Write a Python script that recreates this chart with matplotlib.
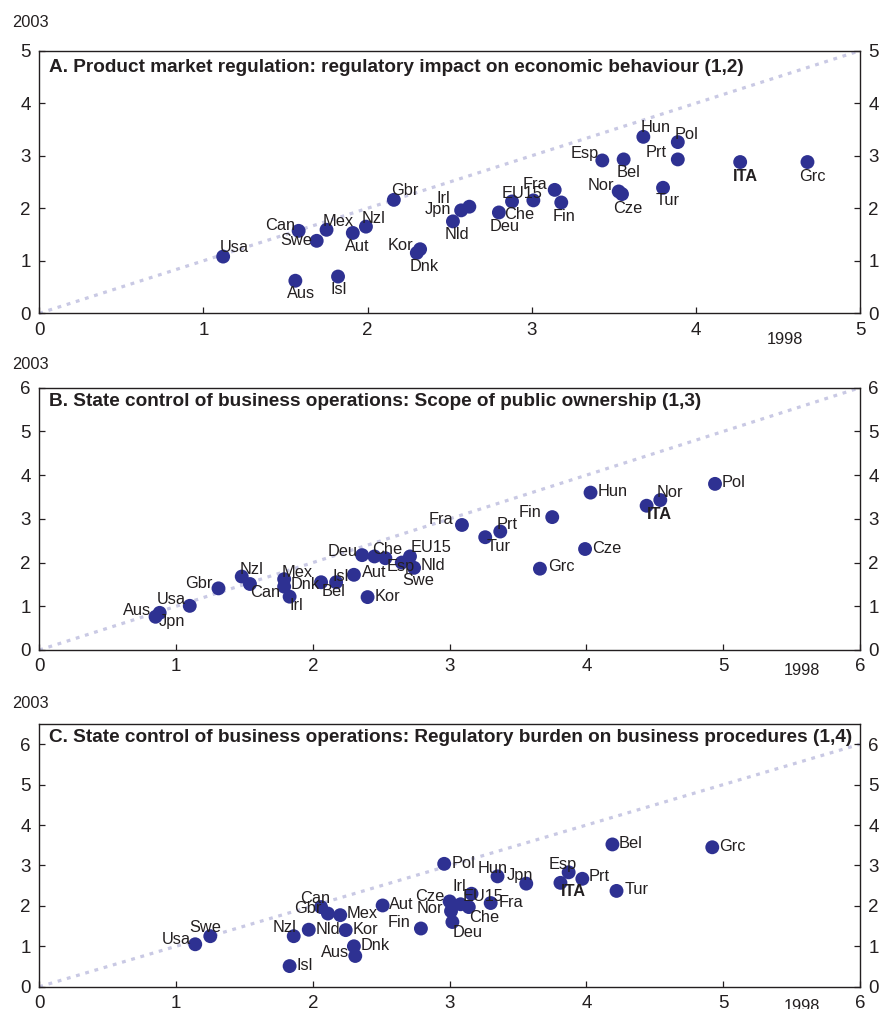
import matplotlib
matplotlib.use("Agg")
import matplotlib.pyplot as plt

plt.rcParams['font.family'] = ['Liberation Sans', 'DejaVu Sans']

TEXT = '#231f20'
DOT = '#2e3192'
DIAG = '#c9c9e4'

# Panel A: regulatory impact on economic behaviour
a_countries = ['Usa', 'Aus', 'Isl', 'Can', 'Swe', 'Mex', 'Aut', 'Nzl', 'Gbr', 'Kor',
               'Dnk', 'Nld', 'Jpn', 'Irl', 'Deu', 'Che', 'EU15', 'Fra', 'Fin', 'Esp',
               'Bel', 'Nor', 'Cze', 'Hun', 'Pol', 'Prt', 'Tur', 'ITA', 'Grc']
a_1998 = [1.12, 1.56, 1.82, 1.58, 1.69, 1.75, 1.91, 1.99, 2.16, 2.32,
          2.30, 2.52, 2.57, 2.62, 2.80, 2.88, 3.01, 3.14, 3.18, 3.43,
          3.56, 3.53, 3.55, 3.68, 3.89, 3.89, 3.80, 4.27, 4.68]
a_2003 = [1.08, 0.62, 0.70, 1.57, 1.38, 1.59, 1.53, 1.65, 2.16, 1.22,
          1.15, 1.75, 1.96, 2.03, 1.92, 2.13, 2.15, 2.35, 2.11, 2.91,
          2.93, 2.32, 2.27, 3.36, 3.26, 2.93, 2.39, 2.88, 2.88]

# Panel B: scope of public ownership
b_countries = ['Aus', 'Jpn', 'Usa', 'Gbr', 'Nzl', 'Can', 'Mex', 'Dnk', 'Irl', 'Bel',
               'Isl', 'Aut', 'Kor', 'Deu', 'Che', 'Esp', 'Swe', 'EU15', 'Nld', 'Fra',
               'Tur', 'Prt', 'Fin', 'Grc', 'Cze', 'Hun', 'ITA', 'Nor', 'Pol']
b_1998 = [0.88, 0.85, 1.10, 1.31, 1.48, 1.54, 1.79, 1.79, 1.83, 2.06,
          2.17, 2.30, 2.40, 2.36, 2.45, 2.53, 2.65, 2.71, 2.74, 3.09,
          3.26, 3.37, 3.75, 3.66, 3.99, 4.03, 4.44, 4.54, 4.94]
b_2003 = [0.85, 0.76, 1.01, 1.41, 1.68, 1.51, 1.62, 1.45, 1.22, 1.55,
          1.55, 1.72, 1.21, 2.17, 2.14, 2.10, 2.00, 2.14, 1.88, 2.86,
          2.58, 2.71, 3.04, 1.86, 2.31, 3.60, 3.30, 3.43, 3.80]

# Panel C: regulatory burden on business procedures
c_countries = ['Usa', 'Swe', 'Nzl', 'Isl', 'Nld', 'Can', 'Gbr', 'Mex', 'Kor', 'Dnk',
               'Aus', 'Aut', 'Fin', 'Pol', 'Hun', 'Jpn', 'Cze', 'Nor', 'Deu', 'Irl',
               'EU15', 'Che', 'Fra', 'Esp', 'ITA', 'Prt', 'Tur', 'Bel', 'Grc']
c_1998 = [1.14, 1.25, 1.86, 1.83, 1.97, 2.06, 2.11, 2.20, 2.24, 2.30,
          2.31, 2.51, 2.79, 2.96, 3.35, 3.56, 3.00, 3.01, 3.02, 3.16,
          3.08, 3.14, 3.30, 3.87, 3.81, 3.97, 4.22, 4.19, 4.92]
c_2003 = [1.05, 1.25, 1.25, 0.51, 1.41, 1.97, 1.81, 1.77, 1.40, 1.00,
          0.76, 2.01, 1.44, 3.04, 2.73, 2.55, 2.11, 1.87, 1.60, 2.30,
          2.04, 1.97, 2.07, 2.83, 2.57, 2.67, 2.37, 3.52, 3.45]

# label offsets from the dot centre, in pixels (x right, y up)
a_offsets = {
    'Usa': (11, 9), 'Aus': (6, -13), 'Isl': (1, -13), 'Can': (-18, 5), 'Swe': (-20, 0),
    'Mex': (12, 8), 'Aut': (4, -14), 'Nzl': (8, 8), 'Gbr': (11, 9), 'Kor': (-20, 4),
    'Dnk': (7, -14), 'Nld': (4, -13), 'Jpn': (-23, 1), 'Irl': (-26, 8), 'Deu': (6, -14),
    'Che': (7, -13), 'EU15': (-11, 7), 'Fra': (-20, 5), 'Fin': (3, -14), 'Esp': (-18, 7),
    'Bel': (5, -13), 'Nor': (-18, 6), 'Cze': (6, -14), 'Hun': (12, 9), 'Pol': (9, 8),
    'Prt': (-22, 7), 'Tur': (5, -13), 'ITA': (5, -14), 'Grc': (5, -14),
}
b_offsets = {
    'Aus': (-23, 2), 'Jpn': (16, -5), 'Usa': (-19, 6), 'Gbr': (-20, 5), 'Nzl': (10, 7),
    'Can': (15, -9), 'Mex': (13, 7), 'Dnk': (21, 2), 'Irl': (7, -9), 'Bel': (12, -9),
    'Isl': (5, 6), 'Aut': (20, 2), 'Kor': (20, 1), 'Deu': (-19, 4), 'Che': (13, 7),
    'Esp': (15, -8), 'Swe': (16, -18), 'EU15': (21, 9), 'Nld': (19, 2), 'Fra': (-21, 5),
    'Tur': (13, -9), 'Prt': (7, 7), 'Fin': (-22, 5), 'Grc': (21, 2), 'Cze': (22, 1),
    'Hun': (22, 1), 'ITA': (13, -9), 'Nor': (10, 8), 'Pol': (19, 1),
}
c_offsets = {
    'Usa': (-19, 5), 'Swe': (-5, 9), 'Nzl': (-9, 9), 'Isl': (15, 1), 'Nld': (19, 0),
    'Can': (-6, 9), 'Gbr': (-20, 5), 'Mex': (22, 2), 'Kor': (20, 1), 'Dnk': (21, 1),
    'Aus': (-20, 3), 'Aut': (19, 1), 'Fin': (-22, 6), 'Pol': (19, 0), 'Hun': (-5, 8),
    'Jpn': (-6, 8), 'Cze': (-20, 5), 'Nor': (-21, 3), 'Deu': (15, -10), 'Irl': (-12, 7),
    'EU15': (22, 8), 'Che': (15, -10), 'Fra': (20, 1), 'Esp': (-6, 8), 'ITA': (13, -9),
    'Prt': (17, 2), 'Tur': (20, 1), 'Bel': (18, 1), 'Grc': (20, 1),
}

panels = [
    ('A. Product market regulation: regulatory impact on economic behaviour (1,2)',
     a_countries, a_1998, a_2003, a_offsets, 5, 5, range(0, 6)),
    ('B. State control of business operations: Scope of public ownership (1,3)',
     b_countries, b_1998, b_2003, b_offsets, 6, 6, range(0, 7)),
    ('C. State control of business operations: Regulatory burden on business procedures (1,4)',
     c_countries, c_1998, c_2003, c_offsets, 6, 6.5, range(0, 7)),
]

W, H = 880, 1009
fig = plt.figure(figsize=(W / 100, H / 100), dpi=100)

# axes boxes in pixels: left, top, right, bottom
boxes = [(39.3, 50.7, 860, 313.3), (39.3, 387.7, 860, 650), (39.3, 724, 860, 986.7)]
# (2003 label y, 1998 label x, 1998 label y) in axes fractions
year_pos = [(1.109, 0.909, -0.098), (1.087, 0.929, -0.080), (1.079, 0.929, -0.074)]
title_y = [0.935, 0.947, 0.950]

for (title, names, x98, y03, offs, xmax, ymax, ticks), box, ypos, ty in zip(
        panels, boxes, year_pos, title_y):
    l, t, r, b = box
    ax = fig.add_axes([l / W, 1 - b / H, (r - l) / W, (b - t) / H])
    ax.set_xlim(0, xmax)
    ax.set_ylim(0, ymax)
    ax.set_xticks(list(ticks))
    ax.set_yticks(list(ticks))

    ax.plot([0, xmax], [0, xmax], color=DIAG, lw=2.3, ls=(0, (1.2, 1.8)),
            zorder=1, clip_on=False)
    ax.scatter(x98, y03, s=100, color=DOT, edgecolors='none', zorder=3)

    for name, x, y in zip(names, x98, y03):
        dx, dy = offs[name]
        ax.annotate(name, (x, y), xytext=(dx, dy), textcoords='offset pixels',
                    ha='center', va='center', fontsize=11.8, color=TEXT,
                    fontweight='bold' if name == 'ITA' else 'normal', zorder=4)

    ax.text(0.012, ty, title, transform=ax.transAxes, ha='left', va='center',
            fontsize=13.7, fontweight='bold', color=TEXT)
    ax.text(-0.033, ypos[0], '2003', transform=ax.transAxes, ha='left',
            va='center', fontsize=11.8, color=TEXT)
    ax.text(ypos[1], ypos[2], '1998', transform=ax.transAxes, ha='center',
            va='center', fontsize=11.8, color=TEXT)

    ax.tick_params(direction='in', length=4, width=0.9, colors=TEXT,
                   labelsize=13.5, right=True, labelright=True, pad=6)
    for sp in ax.spines.values():
        sp.set_linewidth(1.0)
        sp.set_color(TEXT)

fig.savefig('out.png', dpi=100)
